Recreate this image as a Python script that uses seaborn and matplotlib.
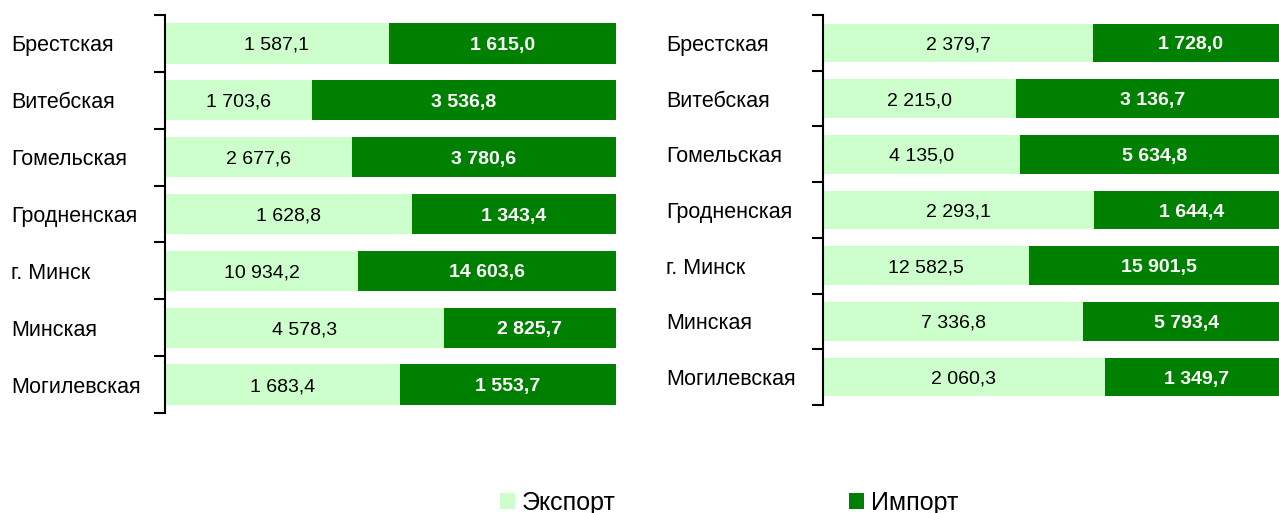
import matplotlib
matplotlib.use("Agg")
import matplotlib.pyplot as plt
import matplotlib.patches as mpatches
import seaborn as sns
import pandas as pd
import numpy as np

regions = ["Брестская", "Витебская", "Гомельская", "Гродненская",
           "г. Минск", "Минская", "Могилевская"]

export_a = [1587.1, 1703.6, 2677.6, 1628.8, 10934.2, 4578.3, 1683.4]
import_a = [1615.0, 3536.8, 3780.6, 1343.4, 14603.6, 2825.7, 1553.7]

export_b = [2379.7, 2215.0, 4135.0, 2293.1, 12582.5, 7336.8, 2060.3]
import_b = [1728.0, 3136.7, 5634.8, 1644.4, 15901.5, 5793.4, 1349.7]

legend_labels = ["Экспорт", "Импорт"]

EXP_COLOR = "#CCFFCC"
IMP_COLOR = "#008000"

sns.set_theme(style="white")
plt.rcParams["font.family"] = ["Liberation Sans", "DejaVu Sans"]
plt.rcParams["text.color"] = "black"
plt.rcParams["ytick.color"] = "black"

W, H = 1279, 513
fig = plt.figure(figsize=(W / 100, H / 100), dpi=100)

VAL_FS = 14
CAT_FS = 15.5


def fmt(v):
    return f"{v:,.1f}".replace(",", " ").replace(".", ",")


def panel(rect, exp_vals, imp_vals, label_pad, bar_w):
    ax = fig.add_axes(rect)
    exp = np.array(exp_vals)
    imp = np.array(imp_vals)
    tot = exp + imp
    df = pd.DataFrame({
        "region": regions,
        "total": tot / tot,
        "exp_share": exp / tot,
    })
    sns.barplot(data=df, y="region", x="total", color=IMP_COLOR, orient="h",
                width=bar_w, saturation=1, linewidth=0, ax=ax, order=regions)
    sns.barplot(data=df, y="region", x="exp_share", color=EXP_COLOR, orient="h",
                width=bar_w, saturation=1, linewidth=0, ax=ax, order=regions)
    for i, (e, s) in enumerate(zip(exp, df["exp_share"])):
        ax.text(s / 2, i, fmt(e), ha="center", va="center_baseline",
                fontsize=VAL_FS, color="black")
        ax.text(s + (1 - s) / 2, i, fmt(imp[i]), ha="center",
                va="center_baseline", fontsize=VAL_FS, color="white",
                fontweight="bold")
    ax.set_xlim(0, 1)
    ax.set_ylim(len(regions) - 0.5, -0.5)
    ax.set_xlabel("")
    ax.set_ylabel("")
    ax.set_xticks([])
    # category boundaries carry the tick marks, centres carry the names
    ax.set_yticks(np.arange(-0.5, len(regions), 1.0))
    ax.set_yticklabels([])
    ax.set_yticks(np.arange(len(regions)), minor=True)
    ax.set_yticklabels(regions, minor=True, fontsize=CAT_FS, color="black",
                       va="center_baseline")
    ax.tick_params(axis="y", which="major", direction="out", length=8,
                   width=1.5, color="black", left=True)
    ax.tick_params(axis="y", which="minor", length=0, pad=label_pad)
    for lab in ax.get_yticklabels(minor=True):
        lab.set_horizontalalignment("left")
    for side in ("top", "right", "bottom"):
        ax.spines[side].set_visible(False)
    ax.spines["left"].set_color("black")
    ax.spines["left"].set_linewidth(1.5)
    ax.grid(False)
    return ax


px = 100 / 72  # pixels per point
panel([165 / W, (H - 413) / H, 451 / W, 398 / H], export_a, import_a,
      (165 - 11) / px, 0.71)
panel([823 / W, (H - 405) / H, 466 / W, 390 / H], export_b, import_b,
      (823 - 666) / px, 0.69)

handles = [mpatches.Patch(facecolor=EXP_COLOR, edgecolor="none"),
           mpatches.Patch(facecolor=IMP_COLOR, edgecolor="none")]
fig.legend(handles, legend_labels, loc="center", ncol=2,
           bbox_to_anchor=(729 / W, (H - 503) / H), frameon=False,
           fontsize=18, handlelength=0.6, handleheight=0.6,
           handletextpad=0.3, columnspacing=9.3, labelcolor="black")

fig.savefig("out.png", dpi=100)
